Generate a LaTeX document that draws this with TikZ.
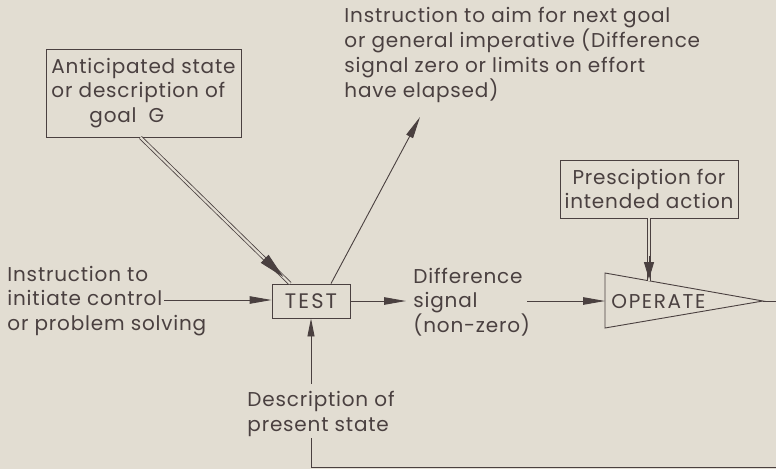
\documentclass[tikz,border=0pt]{standalone}
\usepackage{fontspec}
\setmainfont{Poppins}[LetterSpace=4]
\usetikzlibrary{arrows.meta,calc}
\definecolor{paper}{RGB}{226,221,210}
\definecolor{ink}{RGB}{74,64,64}
\begin{document}
\begin{tikzpicture}[x=1pt,y=-1pt,
  line width=0.9pt,
  every node/.style={text=ink, font=\fontsize{20}{24.7}\selectfont},
  txt/.style={inner sep=0pt, align=left},
  box/.style={draw=ink, line width=0.9pt, inner sep=4pt, align=left},
  wire/.style={draw=ink, line width=0.9pt},
  arr/.style={wire, -{Triangle[length=22pt,width=7.5pt]}},
  arrG/.style={wire, -{Triangle[length=26pt,width=11pt]}},
  arrP/.style={wire, -{Triangle[length=17pt,width=10pt]}},
  dbl/.style={draw=ink, line width=0.8pt, double=paper, double distance=2.2pt}]
  % page
  \fill[paper] (0,0) rectangle (776,469);
  \useasboundingbox (0,0) rectangle (776,469);

  % boxes
  \node[box, minimum width=195pt, minimum height=88pt] (goal) at (143.5,93)
    {Anticipated state\\or description of\\\hspace*{1.9em}goal\hspace{0.6em}G};
  \node[box, align=center, minimum width=178pt, minimum height=58pt] (presc) at (649,189)
    {Presciption for\\intended action};
  \node[box, align=center, minimum width=78pt, minimum height=34pt,
        font=\fontsize{21}{24}\selectfont\addfontfeature{LetterSpace=10}] (test) at (311,301) {TEST};

  % free texts
  \node[txt, anchor=west] (aimtxt) at (344,55)
    {Instruction to aim for next goal\\or general imperative (Difference\\signal zero or limits on effort\\have elapsed)};
  \node[txt, anchor=west] (start) at (7,301)
    {Instruction to\\initiate control\\or problem solving};
  \node[txt, anchor=west] (diff) at (413,302) {Difference\\signal\\(non-zero)};
  \node[txt, anchor=west] (desc) at (247,414) {Description of\\present state};

  % operate triangle
  \coordinate (opNW) at (605,273);
  \coordinate (opSW) at (605,328);
  \coordinate (opTip) at (763,301);
  \coordinate (opIn) at (605,301);
  \coordinate (opTop) at (649,281);
  \coordinate (exit) at (776,301);
  \draw[wire, line join=miter] (opNW) -- (opTip) -- (opSW) -- cycle;
  \node[txt, anchor=west, font=\fontsize{20}{24}\selectfont\addfontfeature{LetterSpace=8}] (op) at (611,302) {OPERATE};
  \draw[wire] (opTip) -- (exit);

  % connector ends
  \coordinate (ctrl) at (164,300);
  \coordinate (diffOut) at (527,301);
  \coordinate (aim) at (420,117);
  \coordinate (descTop) at (311,384);
  \coordinate (descBot) at (311,438);
  \coordinate (fbEnd) at (776,467.5);

  % goal input (double line)
  \draw[dbl] ($(goal.south)+(-3,0)$) coordinate (gS) -- ($(test.north)+(-21,0)$) coordinate (tN);
  \draw[arrG] ($(gS)!0.84!(tN)$) -- ($(gS)!0.955!(tN)$);

  % prescription input (double line)
  \draw[dbl] (presc.south) -- (opTop);
  \draw[arrP] ($(presc.south)!0.60!(opTop)$) -- ($(presc.south)!0.97!(opTop)$);

  % single connectors
  \draw[arr] (ctrl) -- (test.west |- ctrl);
  \draw[arr, shorten >=7pt] (test.east) -- (test.east -| diff.west);
  \draw[arr] (diffOut) -- (opIn);
  \draw[arr] ($(test.north)+(20,0)$) -- (aim);
  \draw[arr, -{Triangle[length=18pt,width=7pt]}] (descTop) -- (test.south);
  \draw[wire] (descBot) |- (fbEnd);
\end{tikzpicture}
\end{document}
